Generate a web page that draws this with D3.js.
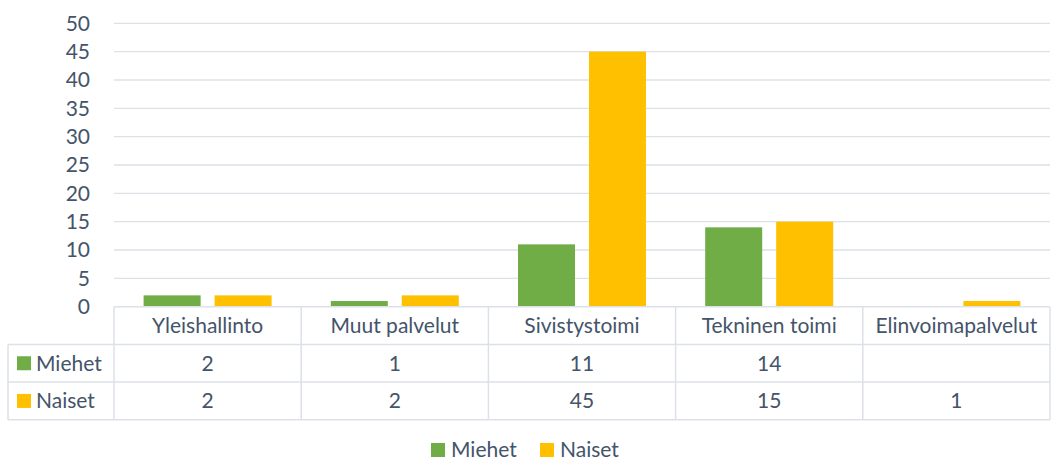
<!DOCTYPE html>
<html>
<head>
<meta charset="utf-8">
<script src="https://cdn.jsdelivr.net/npm/d3@7"></script>
<style>
  body { margin: 0; background: #fff; }
  text { font-family: Lato, "Open Sans", sans-serif; fill: #44546a; }
</style>
</head>
<body>
<div id="chart"></div>
<script>
const categories = ['Yleishallinto', 'Muut palvelut', 'Sivistystoimi', 'Tekninen toimi', 'Elinvoimapalvelut'];
const seriesNames = ['Miehet', 'Naiset'];
const miehet = [2, 1, 11, 14, null];
const naiset = [2, 2, 45, 15, 1];
const yTicks = [0, 5, 10, 15, 20, 25, 30, 35, 40, 45, 50];

const colors = { Miehet: '#70ad47', Naiset: '#ffc000' };
const values = { Miehet: miehet, Naiset: naiset };

const width = 1052, height = 463;
const plotLeft = 114, plotRight = 1050, plotTop = 23.3, plotBottom = 306.7;
const tableLeft = 8, rowH = 37.7;
const gridColor = '#dde1e7';
const fontSize = '21px';

const svg = d3.select('#chart').append('svg')
  .attr('width', width).attr('height', height);

const y = d3.scaleLinear().domain([0, 50]).range([plotBottom, plotTop]);
const x0 = d3.scaleBand().domain(categories).range([plotLeft, plotRight]);
const x1 = d3.scaleBand().domain(seriesNames)
  .range([0, x0.bandwidth()]).paddingInner(0.197).paddingOuter(0.417);

// gridlines
svg.append('g').selectAll('line').data(yTicks.filter(d => d > 0)).enter()
  .append('line')
  .attr('x1', plotLeft).attr('x2', plotRight)
  .attr('y1', d => y(d)).attr('y2', d => y(d))
  .attr('stroke', gridColor).attr('stroke-width', 1.3);

// y tick labels
svg.append('g').selectAll('text').data(yTicks).enter()
  .append('text')
  .attr('x', 90).attr('y', d => y(d))
  .attr('dy', '0.35em').attr('text-anchor', 'end')
  .style('font-size', fontSize)
  .text(d => d);

// bars
seriesNames.forEach(s => {
  svg.append('g').selectAll('rect')
    .data(categories.map((c, i) => ({ c, v: values[s][i] })).filter(d => d.v != null))
    .enter().append('rect')
    .attr('x', d => x0(d.c) + x1(s))
    .attr('width', x1.bandwidth())
    .attr('y', d => y(d.v))
    .attr('height', d => y(0) - y(d.v))
    .attr('fill', colors[s]);
});

// data table
const table = svg.append('g').attr('stroke', gridColor).attr('stroke-width', 1.5);
const rows = [plotBottom, plotBottom + rowH, plotBottom + 2 * rowH, plotBottom + 3 * rowH];
table.append('line').attr('x1', plotLeft).attr('x2', plotRight).attr('y1', rows[0]).attr('y2', rows[0]);
[1, 2, 3].forEach(r => {
  table.append('line').attr('x1', tableLeft).attr('x2', plotRight).attr('y1', rows[r]).attr('y2', rows[r]);
});
table.append('line').attr('x1', tableLeft).attr('x2', tableLeft).attr('y1', rows[1]).attr('y2', rows[3]);
categories.forEach(c => {
  table.append('line').attr('x1', x0(c)).attr('x2', x0(c)).attr('y1', rows[0]).attr('y2', rows[3]);
});
table.append('line').attr('x1', plotRight).attr('x2', plotRight).attr('y1', rows[0]).attr('y2', rows[3]);

svg.append('g').selectAll('text').data(categories).enter()
  .append('text')
  .attr('x', d => x0(d) + x0.bandwidth() / 2)
  .attr('y', rows[0] + rowH / 2).attr('dy', '0.35em')
  .attr('text-anchor', 'middle').style('font-size', fontSize)
  .text(d => d);

seriesNames.forEach((s, si) => {
  const cy = rows[si + 1] + rowH / 2;
  svg.append('rect').attr('x', 17).attr('y', cy - 7).attr('width', 14).attr('height', 14).attr('fill', colors[s]);
  svg.append('text').attr('x', 36).attr('y', cy).attr('dy', '0.35em')
    .style('font-size', fontSize).text(s);
  svg.append('g').selectAll('text')
    .data(categories.map((c, i) => ({ c, v: values[s][i] })).filter(d => d.v != null))
    .enter().append('text')
    .attr('x', d => x0(d.c) + x0.bandwidth() / 2)
    .attr('y', cy).attr('dy', '0.35em')
    .attr('text-anchor', 'middle').style('font-size', fontSize)
    .text(d => d.v);
});

// legend
const legendX = [431, 540];
seriesNames.forEach((s, i) => {
  svg.append('rect').attr('x', legendX[i]).attr('y', 443).attr('width', 14).attr('height', 14).attr('fill', colors[s]);
  svg.append('text').attr('x', legendX[i] + 20).attr('y', 450).attr('dy', '0.35em')
    .style('font-size', fontSize).text(s);
});
</script>
</body>
</html>
